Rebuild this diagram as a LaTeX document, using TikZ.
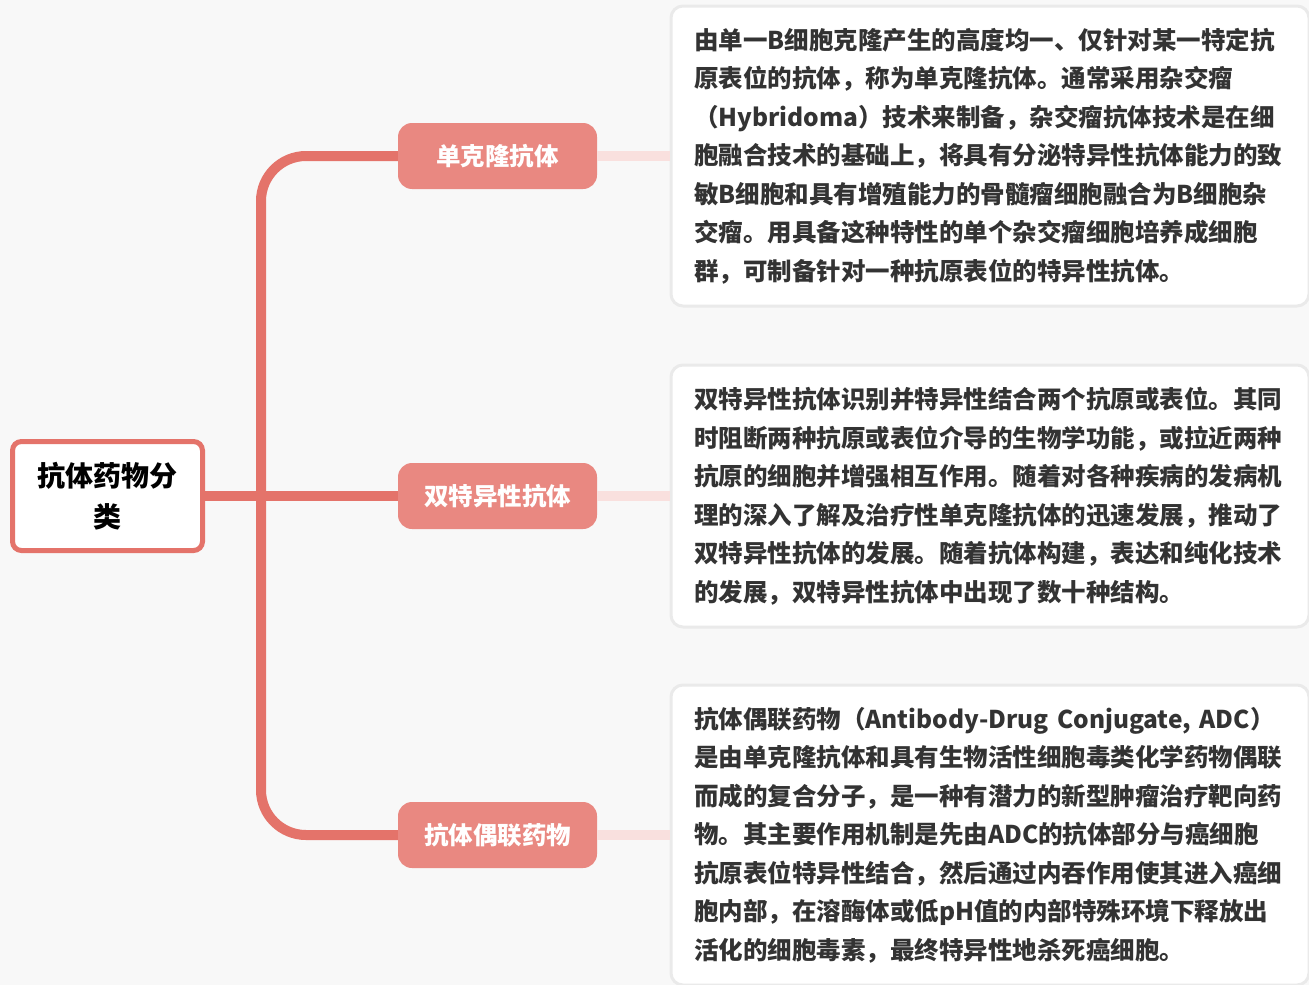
\documentclass[tikz,border=0pt]{standalone}
\usepackage{fontspec}
\setmainfont{Noto Sans CJK SC}
\definecolor{trunkred}{HTML}{E4736A}
\definecolor{branchred}{HTML}{E98881}
\definecolor{linkpink}{HTML}{F9E0DE}
\definecolor{boxgray}{HTML}{EAEAEA}
\definecolor{bggray}{HTML}{F8F8F8}
\definecolor{bodytext}{HTML}{333333}
\begin{document}
\begin{tikzpicture}[
  x=1pt, y=-1pt,
  rootbox/.style={
    draw=trunkred,
    line width=5pt,
    fill=white,
    rounded corners=9pt,
    align=center,
    minimum width=190pt,
    minimum height=109pt,
    font=\fontsize{28}{41}\selectfont\bfseries
  },
  branchbox/.style={
    fill=branchred,
    text=white,
    rounded corners=14pt,
    minimum width=199pt,
    minimum height=66pt,
    font=\fontsize{24.5}{30}\selectfont\bfseries
  },
  descbox/.style={
    draw=boxgray,
    line width=3pt,
    fill=white,
    rounded corners=12pt,
    align=left,
    text=bodytext,
    text width=592pt,
    inner xsep=23pt,
    minimum width=638pt,
    anchor=west,
    font=\fontsize{24.5}{38.5}\selectfont\bfseries
  },
  trunk/.style={draw=trunkred, line width=10pt, rounded corners=45pt},
  link/.style={draw=linkpink, line width=10pt}
]
\useasboundingbox (0,0) rectangle (1309,985);
\fill[bggray] (0,0) rectangle (1309,985);
\node[rootbox] (root) at (107.5,496) {抗体药物分\\类};
\node[branchbox] (mab) at (497.5,156) {单克隆抗体};
\node[branchbox] (bsab) at (497.5,496) {双特异性抗体};
\node[branchbox] (adc) at (497.5,835) {抗体偶联药物};
\node[descbox, minimum height=300pt] (mabtext) at (669.5,156) {由单一B细胞克隆产生的高度均一、仅针对某一特定抗\\原表位的抗体，称为单克隆抗体。通常采用杂交瘤\\（Hybridoma）技术来制备，杂交瘤抗体技术是在细\\胞融合技术的基础上，将具有分泌特异性抗体能力的致\\敏B细胞和具有增殖能力的骨髓瘤细胞融合为B细胞杂\\交瘤。用具备这种特性的单个杂交瘤细胞培养成细胞\\群，可制备针对一种抗原表位的特异性抗体。};
\node[descbox, minimum height=262pt] (bsabtext) at (669.5,496) {双特异性抗体识别并特异性结合两个抗原或表位。其同\\时阻断两种抗原或表位介导的生物学功能，或拉近两种\\抗原的细胞并增强相互作用。随着对各种疾病的发病机\\理的深入了解及治疗性单克隆抗体的迅速发展，推动了\\双特异性抗体的发展。随着抗体构建，表达和纯化技术\\的发展，双特异性抗体中出现了数十种结构。};
\node[descbox, minimum height=300pt] (adctext) at (669.5,835) {抗体偶联药物（Antibody-Drug Conjugate, ADC）\\是由单克隆抗体和具有生物活性细胞毒类化学药物偶联\\而成的复合分子，是一种有潜力的新型肿瘤治疗靶向药\\物。其主要作用机制是先由ADC的抗体部分与癌细胞\\抗原表位特异性结合，然后通过内吞作用使其进入癌细\\胞内部，在溶酶体或低pH值的内部特殊环境下释放出\\活化的细胞毒素，最终特异性地杀死癌细胞。};
\coordinate (fork) at (261,496);
\draw[trunk] (root) -- (bsab);
\draw[trunk] (fork) |- (mab);
\draw[trunk] (fork) |- (adc);
\draw[link] (mab) -- (mabtext);
\draw[link] (bsab) -- (bsabtext);
\draw[link] (adc) -- (adctext);
\end{tikzpicture}
\end{document}
